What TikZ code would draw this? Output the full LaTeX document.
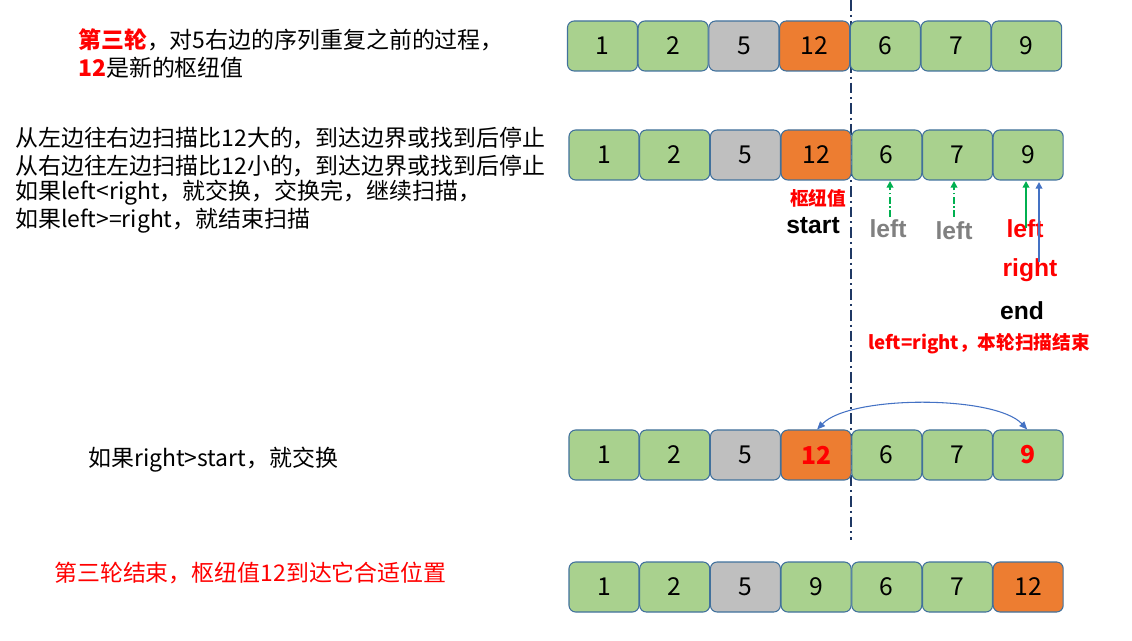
\documentclass[tikz,border=0pt]{standalone}
\usepackage{fontspec}
\setmainfont{Noto Sans CJK SC}
\newfontfamily\lat{Liberation Sans}
\usetikzlibrary{arrows.meta}
\definecolor{gbox}{HTML}{A9D18E}
\definecolor{obox}{HTML}{ED7D31}
\definecolor{sbox}{HTML}{BFBFBF}
\definecolor{bline}{HTML}{41719C}
\definecolor{navy}{HTML}{1F3864}
\definecolor{ggreen}{HTML}{00B050}
\definecolor{bblue}{HTML}{4472C4}
\definecolor{txtgray}{HTML}{808080}
\definecolor{rred}{HTML}{FF0000}
\begin{document}
\begin{tikzpicture}[x=0.75pt,y=-0.75pt,
  cell/.style={draw=bline,line width=0.8pt,rounded corners=5pt,minimum width=52.5pt,minimum height=37.5pt,inner sep=0pt,font=\fontsize{18.5}{20}\selectfont},
  txt/.style={anchor=west,inner sep=0pt,font=\fontsize{17.2}{20}\selectfont},
  lab/.style={inner sep=0pt,font=\fontsize{18.5}{20}\lat\bfseries},
  garrow/.style={ggreen,line width=1.3pt,-{Triangle[length=5pt,width=5pt]}},
  gdarrow/.style={garrow,dash pattern=on 5pt off 2pt on 1pt off 2pt},
  barrow/.style={bblue,line width=1.3pt,-{Triangle[length=5pt,width=5pt]}}]
\useasboundingbox (0,0) rectangle (1132,641);
% dash-dot divider
\coordinate (dtop) at (851,0);
\coordinate (dbot) at (851,540);
\draw[navy,line width=1.7pt,dash pattern=on 8pt off 3pt on 1.5pt off 3pt] (dtop) -- (dbot);
% row 1
\foreach \v/\c [count=\i from 0] in {1/gbox,2/gbox,5/sbox,12/obox,6/gbox,7/gbox,9/gbox}
  \node[cell,fill=\c] (a\i) at (602.5+70.7*\i,46) {\v};
% row 2
\foreach \v/\c [count=\i from 0] in {1/gbox,2/gbox,5/sbox,12/obox,6/gbox,7/gbox,9/gbox}
  \node[cell,fill=\c] (b\i) at (604+70.7*\i,155) {\v};
% row 3
\foreach \v/\c [count=\i from 0] in {1/gbox,2/gbox,5/sbox,{\textcolor{rred}{\bfseries 12}}/obox,6/gbox,7/gbox,{\textcolor{rred}{\bfseries 9}}/gbox}
  \node[cell,fill=\c] (c\i) at (604+70.7*\i,455) {\v};
% row 4
\foreach \v/\c [count=\i from 0] in {1/gbox,2/gbox,5/sbox,9/gbox,6/gbox,7/gbox,12/obox}
  \node[cell,fill=\c] (d\i) at (604+70.7*\i,587) {\v};
% texts
\node[txt] (t1) at (78,40) {\textcolor{rred}{\bfseries 第三轮}，对5右边的序列重复之前的过程，};
\node[txt] (t2) at (78,68) {\textcolor{rred}{\bfseries 12}是新的枢纽值};
\node[txt] (p1) at (15,138) {从左边往右边扫描比12大的，到达边界或找到后停止};
\node[txt] (p2) at (15,166) {从右边往左边扫描比12小的，到达边界或找到后停止};
\node[txt] (p3) at (15,193) {如果left<right，就交换，交换完，继续扫描，};
\node[txt] (p4) at (15,221) {如果left>=right，就结束扫描};
\node[txt] (s1) at (88,460) {如果right>start，就交换};
\node[txt,rred] (e1) at (54,573) {第三轮结束，枢纽值12到达它合适位置};
% labels
\node[inner sep=0pt,rred,font=\fontsize{14}{16}\selectfont\bfseries] (piv) at (818,198) {枢纽值};
\node[lab] (start) at (813,226) {start};
\node[lab,txtgray] (l1) at (888,229) {left};
\node[lab,txtgray] (l2) at (954,231) {left};
\node[lab,rred] (l3) at (1025,229) {left};
\node[lab,rred] (r3) at (1030,270) {right};
\node[lab] (end) at (1022,311) {end};
\node[inner sep=0pt,rred,font=\fontsize{14}{16}\selectfont\bfseries] (msg) at (979,344) {left=right，本轮扫描结束};
% arrows
\coordinate (g1s) at (890,217); \coordinate (g1e) at (890,181);
\coordinate (g2s) at (954,217); \coordinate (g2e) at (954,181);
\coordinate (g3s) at (1026,228); \coordinate (g3e) at (1026,181);
\coordinate (b3s) at (1039,262); \coordinate (b3e) at (1039,182);
\draw[gdarrow] (g1s) -- (g1e);
\draw[gdarrow] (g2s) -- (g2e);
\draw[garrow] (g3s) -- (g3e);
\draw[barrow] (b3s) -- (b3e);
% swap arc
\draw[bblue,line width=0.8pt,{Triangle[length=6pt,width=5pt]}-{Triangle[length=6pt,width=5pt]}]
  ([xshift=0.75pt]c3.north) .. controls (850,395) and (995,395) .. ([xshift=-0.75pt]c6.north);
\end{tikzpicture}
\end{document}
